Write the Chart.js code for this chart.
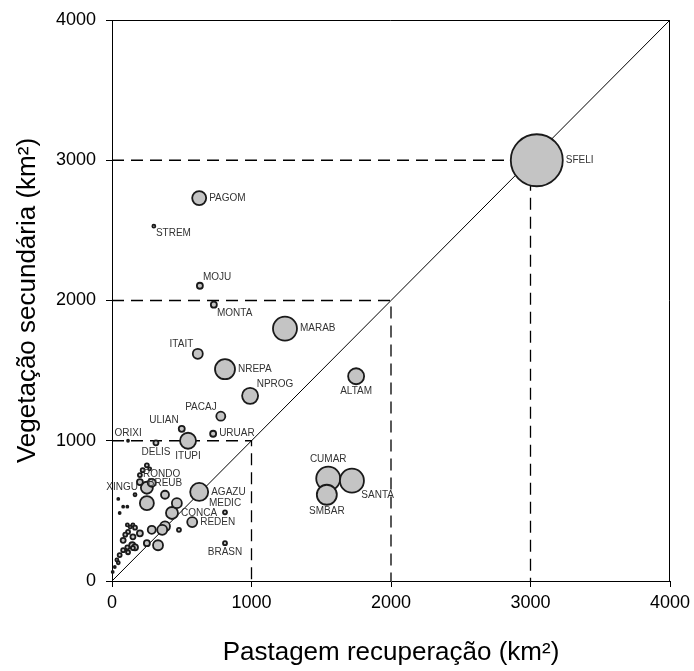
<!DOCTYPE html>
<html>
<head>
<meta charset="utf-8">
<script src="https://cdn.jsdelivr.net/npm/chart.js@4.4.1/dist/chart.umd.min.js"></script>
<style>
  html, body { margin: 0; padding: 0; background: #fff; }
  #wrap { width: 694px; height: 671px; }
</style>
</head>
<body>
<div id="wrap"><canvas id="grafico" width="694" height="671"></canvas></div>
<script>
// municipios (sigla), '' = sem rotulo
var municipios = ['SFELI','PAGOM','STREM','MOJU','MONTA','MARAB','ITAIT','NREPA','NPROG','ALTAM',
  'PACAJ','ULIAN','URUAR','ITUPI','ORIXI','DELIS','CUMAR','SANTA','SMBAR','AGAZU',
  'MEDIC','REDEN','BRASN','CONCA','XINGU','BREUB','RONDO',
  '','','','','','','','','','','','','','','','','','','','','','','','','','','','','','','','','','','','',''];
// pastagem recuperacao (km2)
var pastagem = [3045,625,300,630,730,1240,615,810,990,1750,
  780,500,725,545,115,315,1550,1720,1540,625,
  810,575,810,430,250,380,200,
  250,220,270,200,285,250,465,45,80,110,55,165,480,380,360,285,250,330,
  110,130,150,115,165,200,95,150,145,165,110,80,115,150,55,35,45,20,5,80];
// vegetacao secundaria (km2)
var vegetacao = [3000,2730,2530,2105,1970,1800,1620,1510,1320,1460,
  1175,1085,1050,1000,1000,985,730,715,615,635,
  490,420,270,485,665,615,705,
  825,790,800,755,700,555,555,585,530,530,485,615,365,390,365,365,270,255,
  400,385,400,350,380,340,330,315,255,240,240,220,205,235,185,150,130,100,65,290];
// tamanho relativo da bolha
var tamanho = [26,7,1.5,3,3,12,5,10,8,8,
  4.5,3,3,8,1,2.5,12,12,10,9,
  2,5,2,6,6,4,3,
  2,2,1.5,2,4,7,5,1,1,1,1,1.5,2,5,5,4,3,5,
  1.5,1.5,1.5,2,2,3,2,2.5,3,3,2,2,2,2,2,1.5,1.5,1,1,2.5];
// lado do rotulo em relacao a bolha
var rotuloLado = ['r','r','br','tr','br','r','tl','r','tr','b',
  'tl','tl','r','b','t','b','t','br','b','r',
  't','r','b','r','l','t','tr'];

var guias = [1000, 2000, 3000];
var diagonal = [0, 4000];
var ticksEixo = [0, 1000, 2000, 3000, 4000];

var fonte = 'Liberation Sans, Arial, sans-serif';

var pontos = pastagem.map(function(x, i) {
  return { x: x, y: vegetacao[i], r: tamanho[i] };
});

var datasets = [{
  type: 'bubble',
  data: pontos,
  backgroundColor: '#c4c4c4',
  borderColor: '#1a1a1a',
  borderWidth: 1.8,
  clip: false,
  order: 0
}, {
  type: 'line',
  data: diagonal.map(function(v) { return { x: v, y: v }; }),
  borderColor: '#000',
  borderWidth: 1,
  pointRadius: 0,
  fill: false,
  order: 2
}];

guias.forEach(function(g) {
  datasets.push({
    type: 'line',
    data: [{ x: 0, y: g }, { x: g, y: g }, { x: g, y: 0 }],
    borderColor: '#000',
    borderWidth: 1.3,
    borderDash: [12, 7],
    pointRadius: 0,
    fill: false,
    order: 1
  });
});

// moldura + rotulos dos municipios
var rotulosPlugin = {
  id: 'rotulos',
  afterDraw: function(chart) {
    var ctx = chart.ctx, a = chart.chartArea;
    ctx.save();
    ctx.strokeStyle = '#000';
    ctx.lineWidth = 1;
    ctx.beginPath();
    ctx.moveTo(a.left, a.top + 0.5);
    ctx.lineTo(a.right - 0.5, a.top + 0.5);
    ctx.lineTo(a.right - 0.5, a.bottom);
    ctx.stroke();

    var meta = chart.getDatasetMeta(0);
    ctx.font = '10px ' + fonte;
    ctx.fillStyle = '#333';
    municipios.forEach(function(nome, i) {
      if (!nome) return;
      var el = meta.data[i];
      var r = tamanho[i];
      var lado = rotuloLado[i];
      var d = r * 0.7 + 1;
      var x = el.x, y = el.y;
      if (lado == 'r') { ctx.textAlign = 'left'; ctx.textBaseline = 'middle'; x += r + 3; }
      else if (lado == 'l') { ctx.textAlign = 'right'; ctx.textBaseline = 'middle'; x -= r + 3; }
      else if (lado == 't') { ctx.textAlign = 'center'; ctx.textBaseline = 'bottom'; y -= r + 2; }
      else if (lado == 'b') { ctx.textAlign = 'center'; ctx.textBaseline = 'top'; y += r + 2; }
      else if (lado == 'tr') { ctx.textAlign = 'left'; ctx.textBaseline = 'bottom'; x += d; y -= d; }
      else if (lado == 'tl') { ctx.textAlign = 'right'; ctx.textBaseline = 'bottom'; x -= d; y -= d; }
      else if (lado == 'br') { ctx.textAlign = 'left'; ctx.textBaseline = 'top'; x += d; y += d; }
      ctx.fillText(nome, x, y);
    });
    ctx.restore();
  }
};

function semVirgula(v) { return String(v); }

var chart = new Chart(document.getElementById('grafico').getContext('2d'), {
  data: { datasets: datasets },
  plugins: [rotulosPlugin],
  options: {
    responsive: false,
    animation: false,
    events: [],
    layout: { autoPadding: false, padding: { top: 20, right: 24, bottom: 0, left: 0 } },
    plugins: { legend: { display: false }, tooltip: { enabled: false } },
    scales: {
      x: {
        type: 'linear',
        min: 0, max: 4000,
        afterFit: function(s) { s.height = 90; s.paddingRight = 0; s.paddingLeft = 0; },
        afterBuildTicks: function(s) { s.ticks = ticksEixo.map(function(v) { return { value: v }; }); },
        grid: { drawOnChartArea: false, drawTicks: true, tickLength: 6, color: '#000' },
        border: { display: true, color: '#000', width: 1 },
        ticks: { color: '#000', font: { family: fonte, size: 18 }, padding: 5, maxRotation: 0, callback: semVirgula },
        title: { display: true, text: 'Pastagem recuperação (km²)', color: '#000',
          font: { family: fonte, size: 26 }, padding: { top: 0, bottom: 3 } }
      },
      y: {
        type: 'linear',
        min: 0, max: 4000,
        afterFit: function(s) { s.width = 112; s.paddingTop = 0; s.paddingBottom = 0; },
        afterBuildTicks: function(s) { s.ticks = ticksEixo.map(function(v) { return { value: v }; }); },
        grid: { drawOnChartArea: false, drawTicks: true, tickLength: 6, color: '#000' },
        border: { display: true, color: '#000', width: 1 },
        ticks: { color: '#000', font: { family: fonte, size: 18 }, padding: 10, callback: semVirgula },
        title: { display: true, text: 'Vegetação secundária (km²)', color: '#000',
          font: { family: fonte, size: 26 }, padding: { top: 12, bottom: 0 } }
      }
    }
  }
});
</script>
</body>
</html>
